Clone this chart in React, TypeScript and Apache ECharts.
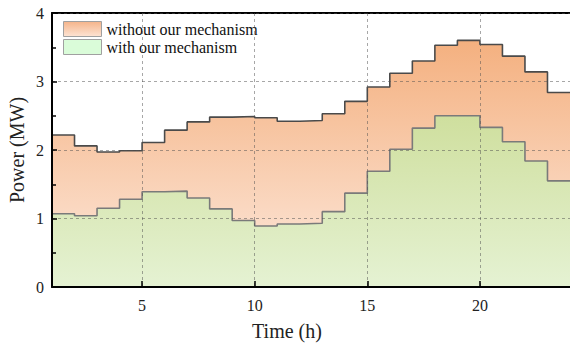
import React, { useEffect, useRef } from "react";
import * as echarts from "echarts";

const hours = [1, 2, 3, 4, 5, 6, 7, 8, 9, 10, 11, 12, 13, 14, 15, 16, 17, 18, 19, 20, 21, 22, 23, 24];
const withoutMechanism = [2.22, 2.06, 1.97, 1.99, 2.11, 2.29, 2.41, 2.48, 2.49, 2.47, 2.42, 2.43, 2.53, 2.71, 2.92, 3.12, 3.3, 3.53, 3.6, 3.54, 3.37, 3.14, 2.84, 2.84];
const withMechanism = [1.07, 1.04, 1.15, 1.28, 1.39, 1.4, 1.3, 1.14, 0.97, 0.89, 0.92, 0.93, 1.1, 1.37, 1.69, 2.01, 2.32, 2.5, 2.5, 2.33, 2.12, 1.84, 1.55, 1.55];
const xTicks = [5, 10, 15, 20];
const seriesNames = ["without our mechanism", "with our mechanism"];

const FONT = "Liberation Serif";

export default function App() {
  const ref = useRef<HTMLDivElement>(null);
  useEffect(() => {
    const chart = echarts.init(ref.current!, null, { renderer: "svg" });
    const orange = new echarts.graphic.LinearGradient(0, 0, 0, 1, [
      { offset: 0, color: "#f4b07f" },
      { offset: 1, color: "#fdeadf" },
    ]);
    const green = new echarts.graphic.LinearGradient(0, 0, 0, 1, [
      { offset: 0, color: "#cfdf9e" },
      { offset: 1, color: "#e5f2d3" },
    ]);
    const legendOrange = new echarts.graphic.LinearGradient(0, 0, 0, 1, [
      { offset: 0, color: "#f5b48a" },
      { offset: 1, color: "#fde3d3" },
    ]);
    const splitStyle = { color: "rgba(80,80,80,0.5)", type: [3, 3] as any, width: 1 };
    chart.setOption({
      animation: false,
      grid: { left: 52, right: 0, top: 13, bottom: 63, containLabel: false },
      legend: {
        left: 58,
        top: 16,
        orient: "vertical",
        itemWidth: 38,
        itemHeight: 15,
        itemGap: 2,
        icon: "rect",
        textStyle: { fontFamily: FONT, fontSize: 16, color: "#111" },
        data: [
          { name: seriesNames[0], itemStyle: { color: legendOrange, borderColor: "#a0a0a0", borderWidth: 1 } },
          { name: seriesNames[1], itemStyle: { color: "#dafcd9", borderColor: "#a0a0a0", borderWidth: 1 } },
        ],
      },
      xAxis: [
        {
          type: "value",
          min: 1,
          max: 24,
          z: 5,
          axisLine: { show: true, lineStyle: { color: "#000", width: 2 } },
          axisTick: { show: true, inside: true, length: 6, customValues: xTicks, lineStyle: { color: "#000", width: 1.5 } },
          axisLabel: { customValues: xTicks, fontFamily: FONT, fontSize: 16, color: "#222", margin: 10 },
          splitLine: { show: true, lineStyle: splitStyle },
        },
        {
          type: "value",
          position: "top",
          min: 1,
          max: 24,
          axisLine: { show: true, lineStyle: { color: "#000", width: 2 } },
          axisTick: { show: false },
          axisLabel: { show: false },
          splitLine: { show: false },
        },
      ],
      yAxis: {
        type: "value",
        min: 0,
        max: 4,
        interval: 1,
        z: 5,
        axisLine: { show: true, lineStyle: { color: "#000", width: 2 } },
        axisTick: { show: true, inside: true, length: 5, lineStyle: { color: "#000", width: 1.5 } },
        minorTick: { show: true, splitNumber: 2, length: 4, lineStyle: { color: "#000", width: 1.5 } },
        axisLabel: { fontFamily: FONT, fontSize: 16, color: "#222", margin: 8 },
        splitLine: { show: true, lineStyle: splitStyle },
      },
      graphic: [
        {
          type: "text",
          x: 287,
          y: 331,
          style: { text: "Time (h)", fontFamily: FONT, fontSize: 20, fill: "#222", align: "center", verticalAlign: "middle" },
        },
        {
          type: "text",
          x: 17,
          y: 150,
          rotation: Math.PI / 2,
          style: { text: "Power (MW)", fontFamily: FONT, fontSize: 20, fill: "#222", align: "center", verticalAlign: "middle" },
        },
      ],
      series: [
        {
          name: seriesNames[0],
          type: "line",
          step: "end",
          symbol: "none",
          z: 2,
          data: hours.map((h, i) => [h, withoutMechanism[i]]),
          lineStyle: { color: "#4a4a4a", width: 1.6 },
          areaStyle: { color: orange, opacity: 1 },
        },
        {
          name: seriesNames[1],
          type: "line",
          step: "end",
          symbol: "none",
          z: 3,
          data: hours.map((h, i) => [h, withMechanism[i]]),
          lineStyle: { color: "#7a7a7a", width: 1.6 },
          areaStyle: { color: green, opacity: 1 },
        },
      ],
    });
    return () => chart.dispose();
  }, []);
  return <div ref={ref} style={{ position: "absolute", left: 0, top: 0, width: 570, height: 350 }} />;
}
